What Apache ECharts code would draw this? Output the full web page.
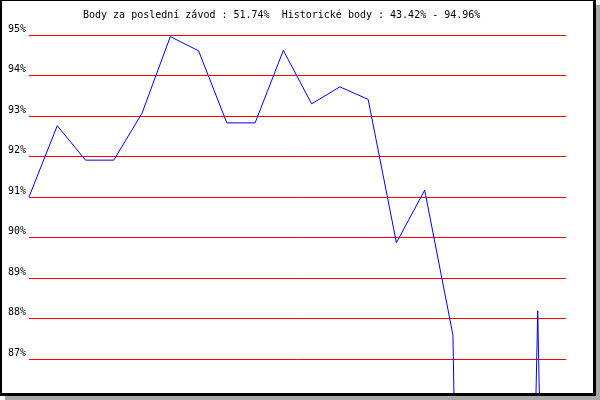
<!DOCTYPE html>
<html>
<head>
<meta charset="utf-8">
<script src="https://cdn.jsdelivr.net/npm/echarts@6/dist/echarts.min.js"></script>
<style>html,body{margin:0;padding:0;background:#fff}#c{width:600px;height:400px}</style>
</head>
<body>
<div id="c"></div>
<script>
var titleText = 'Body za poslední závod : 51.74%  Historické body : 43.42% - 94.96%';
var categories = ['1','2','3','4','5','6','7','8','9','10','11','12','13','14','15','16','17','18','19','20'];
var points = [91.0, 92.76, 91.91, 91.91, 93.07, 94.96, 94.61, 92.83, 92.83, 94.62, 93.30, 93.72, 93.41, 89.87, 91.17, 87.59, 45.0, 55.0, 88.19, 51.74];
var yMin = 86, yMax = 95, yStep = 1;

var chart = echarts.init(document.getElementById('c'), null, {renderer: 'canvas'});
var font = 'DejaVu Sans Mono';
chart.setOption({
  animation: false,
  backgroundColor: '#ffffff',
  textStyle: {fontFamily: font},
  title: {
    text: titleText,
    left: 83, top: 9, padding: 0,
    textStyle: {fontFamily: font, fontSize: 10, fontWeight: 'normal', color: '#000', lineHeight: 12}
  },
  grid: {left: 29, right: 34, top: 35, bottom: 0.5, containLabel: false},
  xAxis: {
    type: 'category', data: categories, boundaryGap: false,
    axisLine: {show: false}, axisTick: {show: false}, axisLabel: {show: false}, splitLine: {show: false}
  },
  yAxis: {
    type: 'value', min: yMin, max: yMax, interval: yStep,
    axisLine: {show: false}, axisTick: {show: false},
    axisLabel: {
      margin: 3, color: '#000', fontFamily: font, fontSize: 10,
      verticalAlign: 'bottom', padding: [0, 0, 1, 0],
      formatter: function (v) { return v <= yMin ? '' : v + '%'; }
    },
    splitLine: {show: true, lineStyle: {color: '#ff0000', width: 1}}
  },
  series: [{
    type: 'line', data: points, symbol: 'none', smooth: false,
    lineStyle: {color: '#0000ff', width: 1}, clip: true
  }],
  graphic: [
    {type: 'rect', z: 100, shape: {x: 596, y: 5, width: 4, height: 395}, style: {fill: '#a8a8a8'}},
    {type: 'rect', z: 100, shape: {x: 5, y: 396, width: 595, height: 4}, style: {fill: '#a8a8a8'}},
    {type: 'rect', z: 100, shape: {x: 596, y: 0, width: 4, height: 5}, style: {fill: '#ffffff'}},
    {type: 'rect', z: 100, shape: {x: 0, y: 396, width: 5, height: 4}, style: {fill: '#ffffff'}},
    {type: 'rect', z: 101, shape: {x: 0, y: 0, width: 2, height: 396}, style: {fill: '#000'}},
    {type: 'rect', z: 101, shape: {x: 0, y: 0, width: 596, height: 1}, style: {fill: '#000'}},
    {type: 'rect', z: 101, shape: {x: 593, y: 0, width: 3, height: 396}, style: {fill: '#000'}},
    {type: 'rect', z: 101, shape: {x: 0, y: 393, width: 596, height: 3}, style: {fill: '#000'}}
  ]
});
</script>
</body>
</html>
